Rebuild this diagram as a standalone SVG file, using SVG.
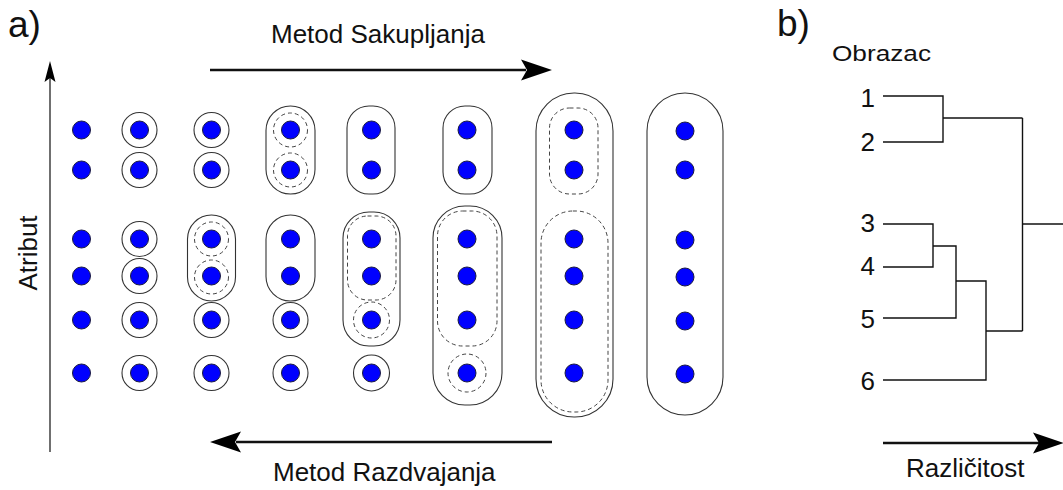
<svg xmlns="http://www.w3.org/2000/svg" width="1063" height="490" viewBox="0 0 1063 490">
<style>
text{font-family:"Liberation Sans",Arial,sans-serif;fill:#111}
.dot{fill:#0000ff;stroke:#1a1a40;stroke-width:1}
.s{fill:none;stroke:#333;stroke-width:1.1}
.d{fill:none;stroke:#444;stroke-width:1;stroke-dasharray:4 3}
.ax{fill:none;stroke:#111;stroke-width:2.6}
.tl{fill:none;stroke:#222;stroke-width:1.3}
.hd{fill:#000}
</style>
<rect width="1063" height="490" fill="#fff"/>

<text x="8" y="37" font-size="37">a)</text>
<text x="777" y="36" font-size="37">b)</text>

<g id="axes">
<line class="tl" x1="50" y1="78" x2="50" y2="452"/>
<path class="hd" d="M50,61 L55.5,82 L50,78 L44.5,82 Z"/>
<line class="ax" x1="210" y1="70" x2="526" y2="70"/>
<path class="hd" d="M552,70 L521,59.5 L527,70 L521,80.5 Z"/>
<line class="ax" x1="236" y1="442" x2="552" y2="442"/>
<path class="hd" d="M210,442 L241,431.5 L235,442 L241,452.5 Z"/>
</g>
<text x="271" y="43" font-size="26">Metod Sakupljanja</text>
<text x="273" y="481" font-size="26">Metod Razdvajanja</text>
<text transform="translate(37,253) rotate(-90)" font-size="26" text-anchor="middle">Atribut</text>

<g id="col1">
<circle class="dot" cx="81.5" cy="130" r="9"/><circle class="dot" cx="81.5" cy="170" r="9"/>
<circle class="dot" cx="81.5" cy="239" r="9"/><circle class="dot" cx="81.5" cy="276" r="9"/>
<circle class="dot" cx="81.5" cy="320" r="9"/><circle class="dot" cx="81.5" cy="373" r="9"/>
</g>
<g id="col2">
<circle class="s" cx="139.5" cy="130" r="17.5"/><circle class="s" cx="139.5" cy="170" r="17.5"/>
<circle class="s" cx="139.5" cy="239" r="17.5"/><circle class="s" cx="139.5" cy="276" r="17.5"/>
<circle class="s" cx="139.5" cy="320" r="17.5"/><circle class="s" cx="139.5" cy="373" r="17.5"/>
<circle class="dot" cx="139.5" cy="130" r="9"/><circle class="dot" cx="139.5" cy="170" r="9"/>
<circle class="dot" cx="139.5" cy="239" r="9"/><circle class="dot" cx="139.5" cy="276" r="9"/>
<circle class="dot" cx="139.5" cy="320" r="9"/><circle class="dot" cx="139.5" cy="373" r="9"/>
</g>
<g id="col3">
<circle class="s" cx="211.5" cy="130" r="17.5"/><circle class="s" cx="211.5" cy="170" r="17.5"/>
<rect class="s" x="187.5" y="215" width="48" height="86" rx="24" ry="24"/>
<circle class="d" cx="211.5" cy="239" r="17"/><circle class="d" cx="211.5" cy="277" r="17"/>
<circle class="s" cx="211.5" cy="320" r="17.5"/><circle class="s" cx="211.5" cy="373" r="17.5"/>
<circle class="dot" cx="211.5" cy="130" r="9"/><circle class="dot" cx="211.5" cy="170" r="9"/>
<circle class="dot" cx="211.5" cy="239" r="9"/><circle class="dot" cx="211.5" cy="276" r="9"/>
<circle class="dot" cx="211.5" cy="320" r="9"/><circle class="dot" cx="211.5" cy="373" r="9"/>
</g>
<g id="col4">
<rect class="s" x="266" y="106" width="49" height="88" rx="24.5" ry="24.5"/>
<circle class="d" cx="290.5" cy="130" r="17"/><circle class="d" cx="290.5" cy="170" r="17"/>
<rect class="s" x="266" y="215" width="49" height="86" rx="24.5" ry="24.5"/>
<circle class="s" cx="290.5" cy="320" r="17.5"/><circle class="s" cx="290.5" cy="373" r="17.5"/>
<circle class="dot" cx="290.5" cy="130" r="9"/><circle class="dot" cx="290.5" cy="170" r="9"/>
<circle class="dot" cx="290.5" cy="239" r="9"/><circle class="dot" cx="290.5" cy="276" r="9"/>
<circle class="dot" cx="290.5" cy="320" r="9"/><circle class="dot" cx="290.5" cy="373" r="9"/>
</g>
<g id="col5">
<rect class="s" x="347" y="106" width="48" height="88" rx="22" ry="22"/>
<rect class="s" x="343" y="212" width="57" height="134" rx="26" ry="26"/>
<rect class="d" x="347.5" y="216" width="48.5" height="84" rx="20" ry="20"/>
<circle class="d" cx="371.5" cy="320" r="18"/>
<circle class="s" cx="371.5" cy="373" r="18"/>
<circle class="dot" cx="371.5" cy="130" r="9"/><circle class="dot" cx="371.5" cy="170" r="9"/>
<circle class="dot" cx="371.5" cy="239" r="9"/><circle class="dot" cx="371.5" cy="276" r="9"/>
<circle class="dot" cx="371.5" cy="320" r="9"/><circle class="dot" cx="371.5" cy="373" r="9"/>
</g>
<g id="col6">
<rect class="s" x="443" y="106" width="49" height="88" rx="22" ry="22"/>
<rect class="s" x="433" y="206" width="69" height="199" rx="32" ry="32"/>
<rect class="d" x="437.5" y="211" width="59.5" height="135" rx="25" ry="25"/>
<circle class="d" cx="467" cy="373" r="19"/>
<circle class="dot" cx="467" cy="130" r="9"/><circle class="dot" cx="467" cy="170" r="9"/>
<circle class="dot" cx="467" cy="239" r="9"/><circle class="dot" cx="467" cy="276" r="9"/>
<circle class="dot" cx="467" cy="320" r="9"/><circle class="dot" cx="467" cy="373" r="9"/>
</g>
<g id="col7">
<rect class="s" x="536" y="93" width="77" height="324" rx="38" ry="38"/>
<rect class="d" x="549.5" y="108" width="48.5" height="86" rx="20" ry="20"/>
<rect class="d" x="541" y="211" width="67" height="201" rx="32" ry="32"/>
<circle class="dot" cx="574" cy="130" r="9"/><circle class="dot" cx="574" cy="170" r="9"/>
<circle class="dot" cx="574" cy="239" r="9"/><circle class="dot" cx="574" cy="276" r="9"/>
<circle class="dot" cx="574" cy="320" r="9"/><circle class="dot" cx="574" cy="373" r="9"/>
</g>
<g id="col8">
<rect class="s" x="647" y="93" width="76" height="322" rx="38" ry="38"/>
<circle class="dot" cx="685" cy="131" r="9"/><circle class="dot" cx="685" cy="170" r="9"/>
<circle class="dot" cx="685" cy="240" r="9"/><circle class="dot" cx="685" cy="277" r="9"/>
<circle class="dot" cx="685" cy="321" r="9"/><circle class="dot" cx="685" cy="374" r="9"/>
</g>

<text x="832" y="61" font-size="22" textLength="99" lengthAdjust="spacingAndGlyphs">Obrazac</text>
<g id="leaf1"><text x="875" y="107" font-size="26" text-anchor="end">1</text></g>
<g id="leaf2"><text x="875" y="151" font-size="26" text-anchor="end">2</text></g>
<g id="leaf3"><text x="875" y="232" font-size="26" text-anchor="end">3</text></g>
<g id="leaf4"><text x="875" y="275" font-size="26" text-anchor="end">4</text></g>
<g id="leaf5"><text x="875" y="328" font-size="26" text-anchor="end">5</text></g>
<g id="leaf6"><text x="875" y="390" font-size="26" text-anchor="end">6</text></g>

<g id="connectors" fill="none" stroke="#111" stroke-width="1.4">
<path d="M883,96 H943 V142 H883"/>
<path d="M943,118 H1022.5"/>
<path d="M883,224 H933 V267 H883"/>
<path d="M933,246 H956 V318 H883"/>
<path d="M956,281 H986 V380 H883"/>
<path d="M986,331 H1022.5"/>
<path d="M1022.5,118 V331"/>
<path d="M1022.5,224 H1063"/>
</g>
<g id="dendro-axis">
<line class="ax" x1="883" y1="443" x2="1040" y2="443"/>
<path class="hd" d="M1064,443 L1033,432.5 L1039,443 L1033,453.5 Z"/>
</g>
<text x="906" y="477" font-size="26">Različitost</text>
</svg>
